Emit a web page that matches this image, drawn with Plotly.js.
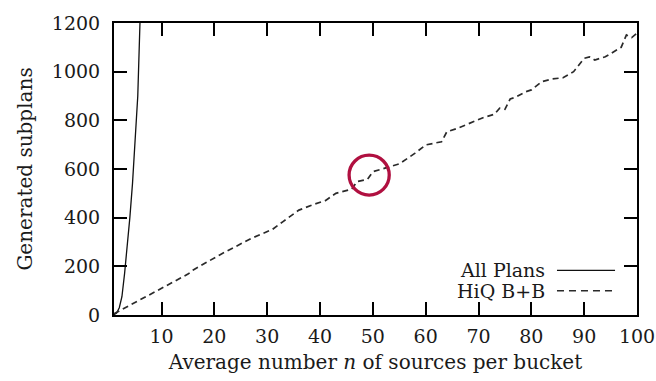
<!DOCTYPE html>
<html>
<head>
<meta charset="utf-8">
<script src="https://cdn.plot.ly/plotly-3.0.1.min.js"></script>
<style>html,body{margin:0;padding:0;background:#fff}#chart{width:656px;height:381px}</style>
</head>
<body>
<div id="chart"></div>
<script>
// All Plans (exhaustive enumeration)
const allX = [1, 1.5, 2, 2.5, 3, 3.5, 4, 4.5, 5, 5.5, 6];
const allY = [1, 8, 30, 75, 170, 280, 400, 540, 700, 900, 1260];
// HiQ B+B
const hiqX = [1, 6, 10, 15, 16, 21, 27, 31, 33, 36, 39, 41, 43, 46, 47, 49, 50, 52, 55, 58, 60, 63, 64, 66, 69, 71, 73, 74, 75, 76, 77, 79, 80, 82, 84, 86, 88, 90, 91, 92, 94, 96, 97, 98, 99, 100];
const hiqY = [5, 62, 110, 168, 185, 247, 315, 352, 384, 431, 456, 470, 500, 517, 548, 558, 589, 603, 621, 665, 699, 712, 753, 767, 794, 812, 825, 850, 845, 888, 895, 918, 925, 959, 970, 975, 1000, 1055, 1061, 1048, 1061, 1085, 1100, 1151, 1140, 1158];
const xTicks = [10, 20, 30, 40, 50, 60, 70, 80, 90, 100];
const seriesNames = ["All Plans", "HiQ B+B"];

const FONT = "DejaVu Serif";
const TXT = "#1a1a1a";

const traces = [
  {x: allX, y: allY, mode: "lines", name: seriesNames[0],
   line: {color: "#111", width: 1.3}},
  {x: hiqX, y: hiqY, mode: "lines", name: seriesNames[1],
   line: {color: "#2a2a2a", width: 1.7, dash: "6px,4px"}}
];

const axisCommon = {
  showline: true, linecolor: "#000", linewidth: 2, mirror: "ticks",
  ticks: "inside", ticklen: 13, tickwidth: 2, tickcolor: "#000",
  showgrid: false, zeroline: false,
  tickfont: {family: FONT, size: 19, color: TXT}
};

const layout = {
  width: 656, height: 381,
  margin: {l: 114, r: 19, t: 23, b: 66},
  paper_bgcolor: "#fff", plot_bgcolor: "#fff",
  showlegend: false,
  font: {family: FONT, size: 19},
  xaxis: Object.assign({}, axisCommon, {
    range: [1, 100], tickvals: xTicks, ticktext: xTicks.map(String),
    ticklabelstandoff: 3,
    title: {text: "Average number <i>n</i> of sources per bucket",
            font: {family: FONT, size: 20, color: TXT}, standoff: 9}
  }),
  yaxis: Object.assign({}, axisCommon, {
    range: [0, 1200], dtick: 200, tick0: 0,
    ticklabelstandoff: 8,
    title: {text: "Generated subplans",
            font: {family: FONT, size: 20, color: TXT}, standoff: 14}
  }),
  shapes: [
    {type: "circle", xref: "x", yref: "y", x0: 45.5, x1: 53.1, y0: 493, y1: 657,
     line: {color: "#b01040", width: 3.3}},
    {type: "line", xref: "paper", yref: "paper", x0: 0.847, x1: 0.958, y0: 0.153, y1: 0.153,
     line: {color: "#111", width: 1.3}},
    {type: "line", xref: "paper", yref: "paper", x0: 0.847, x1: 0.958, y0: 0.083, y1: 0.083,
     line: {color: "#2a2a2a", width: 1.6, dash: "7px,5px"}}
  ],
  annotations: [
    {xref: "paper", yref: "paper", x: 0.826, y: 0.153, xanchor: "right", yanchor: "middle",
     showarrow: false, text: seriesNames[0], borderpad: 0,
     font: {family: FONT, size: 19, color: TXT}},
    {xref: "paper", yref: "paper", x: 0.826, y: 0.083, xanchor: "right", yanchor: "middle",
     showarrow: false, text: seriesNames[1], borderpad: 0,
     font: {family: FONT, size: 19, color: TXT}}
  ]
};

Plotly.newPlot("chart", traces, layout, {staticPlot: true, displayModeBar: false});
</script>
</body>
</html>
